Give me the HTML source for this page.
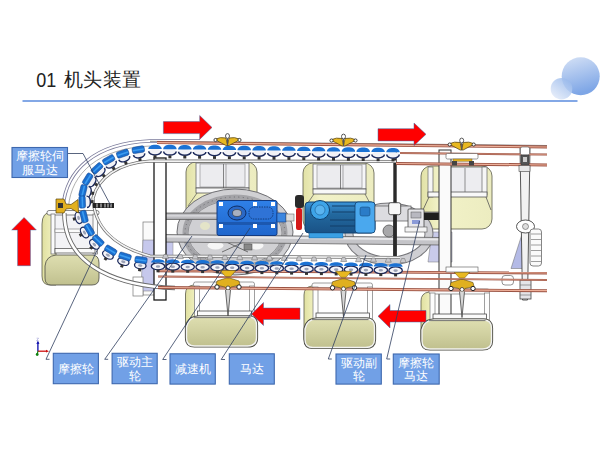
<!DOCTYPE html>
<html><head><meta charset="utf-8"><title>01 机头装置</title>
<style>html,body{margin:0;padding:0;background:#fff;}body{width:600px;height:450px;overflow:hidden;font-family:"Liberation Sans",sans-serif;}svg{display:block;}</style>
</head><body>
<svg width="600" height="450" viewBox="0 0 600 450"><defs>
<linearGradient id="gBig" x1="0" y1="0" x2="0.3" y2="1"><stop offset="0" stop-color="#d6e2f6"/><stop offset="1" stop-color="#7ea6e6"/></linearGradient>
<linearGradient id="gSmall" x1="0.8" y1="0.1" x2="0.2" y2="0.9"><stop offset="0" stop-color="#9bbbec"/><stop offset="1" stop-color="#dfe8f8"/></linearGradient>
<linearGradient id="gCream" x1="0" y1="0" x2="1" y2="0"><stop offset="0" stop-color="#e2e2a6"/><stop offset="0.25" stop-color="#f2f2c8"/><stop offset="1" stop-color="#ececc0"/></linearGradient>
<linearGradient id="gCreamL" x1="0" y1="0" x2="1" y2="0"><stop offset="0" stop-color="#e0e0a0"/><stop offset="1" stop-color="#f4f4c6"/></linearGradient>
<linearGradient id="gBot" x1="0" y1="0" x2="0" y2="1"><stop offset="0" stop-color="#dedeb0"/><stop offset="0.5" stop-color="#d0d0a0"/><stop offset="1" stop-color="#c0c08e"/></linearGradient>
<linearGradient id="gMotor" x1="0" y1="0" x2="0" y2="1"><stop offset="0" stop-color="#3c94d8"/><stop offset="0.4" stop-color="#22689e"/><stop offset="1" stop-color="#1a5286"/></linearGradient>
<linearGradient id="gGear" x1="0" y1="0" x2="0" y2="1"><stop offset="0" stop-color="#2f80e8"/><stop offset="1" stop-color="#1f66cc"/></linearGradient>
<linearGradient id="gShaft" x1="0" y1="0" x2="0" y2="1"><stop offset="0" stop-color="#9a9a9e"/><stop offset="0.4" stop-color="#d8d8dc"/><stop offset="1" stop-color="#a0a0a4"/></linearGradient>
</defs>
<text transform="translate(36.3,86.6) scale(0.9,1)" font-family="Liberation Sans, sans-serif" font-size="20" fill="#222">01</text>
<text x="64.3" y="85.5" font-family="Liberation Sans, sans-serif" font-size="18.5" letter-spacing="0.2" fill="#222">机头装置</text>
<line x1="22.5" y1="101" x2="577.5" y2="101" stroke="#5a8bde" stroke-width="1.7"/>
<circle cx="580.7" cy="76.3" r="19" fill="url(#gBig)"/>
<circle cx="561.5" cy="88.7" r="10.8" fill="url(#gSmall)" opacity="0.85"/>
<rect x="143" y="222" width="12" height="73" fill="#fafafa" stroke="#777" stroke-width="0.7"/>
<path d="M141,291 L143,240 L155,240 L155,291 Z" fill="#c6c8ec" stroke="#777" stroke-width="0.5"/>
<rect x="165" y="242" width="8" height="30" fill="#c6c8ec" stroke="#888" stroke-width="0.5"/>
<rect x="133" y="277" width="10" height="19" fill="#fff" stroke="#777" stroke-width="0.7"/>
<path d="M511,268.5 L522.7,232 L526,268.5 Z" fill="#b4bae6" stroke="#666" stroke-width="0.5"/>
<path d="M428,262 L432,232 L452,232 L452,262 Z" fill="#c9cbea" stroke="#777" stroke-width="0.5"/>
<rect x="186" y="162" width="71" height="74" rx="10" fill="url(#gCream)" stroke="#5a5a4a" stroke-width="0.8"/><rect x="196" y="163" width="53" height="25" fill="#f6f6f8" stroke="#6a6a6a" stroke-width="0.8"/><rect x="200" y="164" width="45" height="23" fill="#ececef" stroke="#888" stroke-width="0.6"/><line x1="223.5" y1="164" x2="223.5" y2="188" stroke="#555" stroke-width="0.7"/><line x1="226.0" y1="164" x2="226.0" y2="188" stroke="#777" stroke-width="0.6"/><rect x="196" y="188" width="53" height="5" fill="#f8f8f8" stroke="#444" stroke-width="0.7"/><line x1="197" y1="193" x2="188" y2="206" stroke="#555" stroke-width="0.7"/><line x1="248" y1="193" x2="255" y2="206" stroke="#555" stroke-width="0.7"/>
<rect x="303" y="163" width="71" height="67" rx="10" fill="url(#gCream)" stroke="#5a5a4a" stroke-width="0.8"/><rect x="313" y="164" width="53" height="25" fill="#f6f6f8" stroke="#6a6a6a" stroke-width="0.8"/><rect x="317" y="165" width="45" height="23" fill="#ececef" stroke="#888" stroke-width="0.6"/><line x1="340.5" y1="165" x2="340.5" y2="189" stroke="#555" stroke-width="0.7"/><line x1="343.0" y1="165" x2="343.0" y2="189" stroke="#777" stroke-width="0.6"/><rect x="313" y="189" width="53" height="5" fill="#f8f8f8" stroke="#444" stroke-width="0.7"/><line x1="314" y1="194" x2="305" y2="207" stroke="#555" stroke-width="0.7"/><line x1="365" y1="194" x2="372" y2="207" stroke="#555" stroke-width="0.7"/>
<rect x="421" y="166" width="71" height="63" rx="10" fill="url(#gCream)" stroke="#5a5a4a" stroke-width="0.8"/>
<rect x="428" y="167" width="5" height="30" fill="#f6f6f6" stroke="#666" stroke-width="0.7"/>
<rect x="450" y="167" width="36" height="26" fill="#ededf0" stroke="#666" stroke-width="0.8"/>
<rect x="482" y="167" width="5" height="28" fill="#f6f6f6" stroke="#666" stroke-width="0.7"/>
<rect x="428" y="192" width="59" height="5" fill="#f8f8f8" stroke="#444" stroke-width="0.7"/>
<line x1="429" y1="197" x2="422" y2="212" stroke="#555" stroke-width="0.8"/><line x1="486" y1="197" x2="491" y2="210" stroke="#555" stroke-width="0.8"/>
<line x1="465" y1="168" x2="465" y2="192" stroke="#666" stroke-width="0.7"/>
<path d="M42,224 Q42,212 52,212 L56,212 L56,285 L50,285 Q42,285 42,276 Z" fill="url(#gCreamL)" stroke="#5a5a4a" stroke-width="0.8"/>
<rect x="52" y="214" width="44" height="38" fill="#f3f3f6"/>
<rect x="47" y="210.5" width="52" height="4.5" rx="2" fill="#fbfbfb" stroke="#555" stroke-width="0.7"/>
<rect x="51" y="214" width="4" height="40" fill="#fbfbfb" stroke="#666" stroke-width="0.7"/><rect x="93" y="214" width="4.5" height="40" fill="#fbfbfb" stroke="#666" stroke-width="0.7"/>
<rect x="55" y="229" width="38" height="3.5" fill="#fbfbfb" stroke="#777" stroke-width="0.6"/>
<rect x="55" y="248.5" width="40" height="4.5" fill="#fbfbfb" stroke="#444" stroke-width="0.7"/>
<path d="M45,266 Q46,256 56,255 L92,255 Q99,255 99,263 L99,278 Q99,285 92,285 L51,285 Q45,285 45,278 Z" fill="url(#gBot)" stroke="#4a4a42" stroke-width="0.8"/>
<ellipse cx="389" cy="234" rx="40" ry="27" fill="none" stroke="#77777b" stroke-width="9"/>
<ellipse cx="389" cy="234" rx="40" ry="27" fill="none" stroke="#cfcfd3" stroke-width="7"/>
<ellipse cx="235" cy="232" rx="58" ry="43" fill="#d0d0d3" stroke="#6e6e72" stroke-width="1"/>
<ellipse cx="235" cy="233" rx="50" ry="36" fill="none" stroke="#a4a4a8" stroke-width="5"/>
<ellipse cx="235" cy="233" rx="50" ry="36" fill="none" stroke="#6a6a6e" stroke-width="1" stroke-dasharray="1 3.5"/>
<ellipse cx="235" cy="233" rx="47" ry="33" fill="none" stroke="#808084" stroke-width="0.8"/>
<ellipse cx="215.5" cy="245.5" rx="8" ry="4" fill="#f6f6f6"/><ellipse cx="256.5" cy="245.5" rx="7" ry="4" fill="#f6f6f6"/>
<path d="M222,252 L248,240 M222,240 L248,252" stroke="#555" stroke-width="0.8"/>
<ellipse cx="205" cy="226" rx="5" ry="4" fill="#e4e4c8"/>
<rect x="165" y="213" width="53" height="6.5" fill="url(#gShaft)" stroke="#555" stroke-width="0.7"/>
<path d="M165,234.5 L440,237.5 L440,245 L165,242 Z" fill="#c4c4c8" stroke="#555" stroke-width="0.7"/><path d="M165,236.5 L440,239.5" stroke="#e8e8ea" stroke-width="2"/>
<rect x="375" y="212" width="65" height="5" fill="#f4f4f4" stroke="#555" stroke-width="0.7"/>
<rect x="244" y="244" width="8" height="6" fill="#888" stroke="#444" stroke-width="0.5"/>
<rect x="217" y="200.5" width="60" height="35" rx="2" fill="url(#gGear)" stroke="#123a80" stroke-width="1"/>
<ellipse cx="237" cy="213" rx="9" ry="7" fill="#2a68c6" stroke="#0e2e66" stroke-width="1"/>
<ellipse cx="237" cy="213" rx="4.5" ry="3.5" fill="#a8b0c0" stroke="#333" stroke-width="0.6"/>
<rect x="249" y="207" width="24" height="12" rx="5" fill="#2f73d6" stroke="#0e2e66" stroke-width="0.8" stroke-dasharray="1.5 1"/>
<rect x="217" y="222" width="60" height="3" fill="#1c58b0"/>
<rect x="219" y="202" width="4" height="4" fill="#fff"/><rect x="253" y="202" width="4" height="4" fill="#fff"/><rect x="271" y="202" width="4" height="4" fill="#fff"/><rect x="219" y="224" width="4" height="4" fill="#fff"/><rect x="253" y="224" width="4" height="4" fill="#fff"/><rect x="271" y="224" width="4" height="4" fill="#fff"/>
<rect x="277" y="213" width="9" height="9" fill="#3b86e0" stroke="#123a80" stroke-width="0.6"/>
<rect x="286" y="214" width="8" height="7" fill="#ddd" stroke="#555" stroke-width="0.5"/>
<rect x="295" y="195" width="9" height="13" rx="3" fill="#2a2a2a"/>
<rect x="296" y="208" width="6" height="22" rx="2" fill="#d41a1a"/>
<rect x="305" y="202" width="70" height="31" rx="4" fill="url(#gMotor)" stroke="#10406e" stroke-width="1"/>
<circle cx="320" cy="210" r="9.5" fill="#3ea4e8" stroke="#10406e" stroke-width="1"/><circle cx="320" cy="210" r="5" fill="#5ab4f0" stroke="#1a5a90" stroke-width="0.6"/>
<path d="M332,206 H356 M332,212 H356 M330,220 H356 M330,226 H356" stroke="#123e68" stroke-width="1"/>
<rect x="355" y="202" width="20" height="31" rx="3" fill="#4aa8ee" stroke="#10406e" stroke-width="0.8"/>
<rect x="360" y="207" width="10" height="9" rx="2" fill="#2a7cc8" stroke="#10406e" stroke-width="0.5"/>
<rect x="309" y="233" width="34" height="5" fill="#3aa0e4" stroke="#1a5a90" stroke-width="0.5"/>
<ellipse cx="389" cy="231" rx="6" ry="6" fill="#a8a8aa" stroke="#555" stroke-width="0.8"/>
<rect x="375" y="206" width="36" height="15" fill="#dcdce0" stroke="#555" stroke-width="0.7"/>
<rect x="408" y="209" width="16" height="21" rx="1" fill="#e6e6ea" stroke="#444" stroke-width="0.8"/>
<rect x="411" y="212" width="10" height="6" fill="#b8b8c0" stroke="#555" stroke-width="0.5"/><rect x="412" y="220" width="8" height="4" fill="#8a9ad8"/>
<rect x="405" y="227" width="22" height="5" fill="#f4f4f4" stroke="#555" stroke-width="0.6"/>
<rect x="424" y="212.5" width="17" height="7.5" fill="#1e1e1e"/>
<rect x="440" y="211" width="4" height="10" rx="1.5" fill="#f0f0f0" stroke="#444" stroke-width="0.6"/>
<rect x="154" y="158" width="12" height="142" fill="#fff" stroke="#1a1a1a" stroke-width="1.3"/>
<rect x="439" y="150" width="12" height="195" fill="#fafafa" stroke="#333" stroke-width="1"/>
<path d="M520,148 L530,148 L527.5,300 L522.5,300 Z" fill="#f2f2f2" stroke="#444" stroke-width="0.9"/>
<ellipse cx="525.5" cy="226.5" rx="9" ry="6.5" fill="#fff" stroke="#444" stroke-width="0.9"/><ellipse cx="525.5" cy="226.5" rx="3" ry="3" fill="#ddd" stroke="#555" stroke-width="0.6"/>
<rect x="530" y="229" width="11.5" height="37" rx="3" fill="#fafafa" stroke="#666" stroke-width="0.8"/>
<path d="M531,234 H541 M531,239.5 H541 M531,245 H541 M531,250.5 H541 M531,256 H541 M531,261.5 H541" stroke="#777" stroke-width="0.7"/>
<line x1="395" y1="150" x2="395" y2="258" stroke="#2a2a2a" stroke-width="3.4"/>
<rect x="388.7" y="202.7" width="12" height="12" rx="2" fill="#f8f8f8" stroke="#333" stroke-width="0.8"/><line x1="395" y1="214.7" x2="395" y2="258" stroke="#2a2a2a" stroke-width="3.4"/>
<rect x="520" y="280" width="11" height="19" fill="#e4e4e8" stroke="#444" stroke-width="0.8"/><path d="M520,285 H531 M520,290 H531 M520,295 H531" stroke="#666" stroke-width="0.6"/>
<rect x="502" y="275.5" width="11.5" height="9.5" rx="3" fill="#fff" stroke="#666" stroke-width="0.7"/>
<path d="M63,207 C66,170 95,143 150,141 L200,141" fill="none" stroke="#7a7a9a" stroke-width="3.4"/>
<path d="M63,207 C66,170 95,143 150,141 L200,141" fill="none" stroke="#fff" stroke-width="1.8"/>
<path d="M68.5,207 C71,173 99,148 150,146" fill="none" stroke="#9a9a9a" stroke-width="0.8"/>
<path d="M64.3,213 C64.5,270 125,286.4 175,288" fill="none" stroke="#6a6a6a" stroke-width="4.4"/>
<path d="M64.3,213 C64.5,270 125,286.4 175,288" fill="none" stroke="#fff" stroke-width="2.6"/>
<path d="M396,161.5 L150,161 C118,163 98,178 93,198 C94,225 112,246 150,256 L400,257.5" fill="none" stroke="#707070" stroke-width="3.2"/>
<path d="M396,161.5 L150,161 C118,163 98,178 93,198 C94,225 112,246 150,256 L400,257.5" fill="none" stroke="#f4f4f4" stroke-width="1.6"/>
<path d="M185.5,294 Q185.5,286 193.5,285 L197.5,285 L197.5,346 L193.5,346 Q185.5,346 185.5,336 Z" fill="url(#gCreamL)" stroke="#5a5a4a" stroke-width="0.8"/><rect x="193.5" y="282" width="61.0" height="5" rx="2" fill="#fbfbfb" stroke="#777" stroke-width="0.7"/><rect x="194.5" y="286" width="5" height="31" fill="#fdfdfd" stroke="#777" stroke-width="0.7"/><rect x="249.5" y="286" width="5" height="31" fill="#fdfdfd" stroke="#777" stroke-width="0.7"/><rect x="197.5" y="311" width="54.0" height="5" fill="#fbfbfb" stroke="#333" stroke-width="0.7"/><path d="M186.5,327 Q188.5,317 198.5,317 L248.5,317 Q256.5,317 256.5,325 L256.5,338 Q256.5,346 247.5,346 L194.5,346 Q186.5,346 186.5,338 Z" fill="none" stroke="#4a4a42" stroke-width="3.2"/><path d="M186.5,327 Q188.5,317 198.5,317 L248.5,317 Q256.5,317 256.5,325 L256.5,338 Q256.5,346 247.5,346 L194.5,346 Q186.5,346 186.5,338 Z" fill="url(#gBot)" stroke="#f2f2f0" stroke-width="1.4"/><line x1="193.5" y1="317.6" x2="250.5" y2="317.6" stroke="#555" stroke-width="0.8"/>
<path d="M304,295 Q304,287 312,286 L316,286 L316,347.5 L312,347.5 Q304,347.5 304,337.5 Z" fill="url(#gCreamL)" stroke="#5a5a4a" stroke-width="0.8"/><rect x="312" y="283" width="60.5" height="5" rx="2" fill="#fbfbfb" stroke="#777" stroke-width="0.7"/><rect x="313" y="287" width="5" height="32" fill="#fdfdfd" stroke="#777" stroke-width="0.7"/><rect x="367.5" y="287" width="5" height="32" fill="#fdfdfd" stroke="#777" stroke-width="0.7"/><rect x="316" y="313" width="53.5" height="5" fill="#fbfbfb" stroke="#333" stroke-width="0.7"/><path d="M305,329 Q307,319 317,319 L366.5,319 Q374.5,319 374.5,327 L374.5,339.5 Q374.5,347.5 365.5,347.5 L313,347.5 Q305,347.5 305,339.5 Z" fill="none" stroke="#4a4a42" stroke-width="3.2"/><path d="M305,329 Q307,319 317,319 L366.5,319 Q374.5,319 374.5,327 L374.5,339.5 Q374.5,347.5 365.5,347.5 L313,347.5 Q305,347.5 305,339.5 Z" fill="url(#gBot)" stroke="#f2f2f0" stroke-width="1.4"/><line x1="312" y1="319.6" x2="368.5" y2="319.6" stroke="#555" stroke-width="0.8"/>
<path d="M421,301 Q421,293 429,292 L433,292 L433,349 L429,349 Q421,349 421,339 Z" fill="url(#gCreamL)" stroke="#5a5a4a" stroke-width="0.8"/><rect x="429" y="289" width="60.5" height="5" rx="2" fill="#fbfbfb" stroke="#777" stroke-width="0.7"/><rect x="430" y="293" width="5" height="27" fill="#fdfdfd" stroke="#777" stroke-width="0.7"/><rect x="484.5" y="293" width="5" height="27" fill="#fdfdfd" stroke="#777" stroke-width="0.7"/><rect x="433" y="314" width="53.5" height="5" fill="#fbfbfb" stroke="#333" stroke-width="0.7"/><path d="M422,330 Q424,320 434,320 L483.5,320 Q491.5,320 491.5,328 L491.5,341 Q491.5,349 482.5,349 L430,349 Q422,349 422,341 Z" fill="none" stroke="#4a4a42" stroke-width="3.2"/><path d="M422,330 Q424,320 434,320 L483.5,320 Q491.5,320 491.5,328 L491.5,341 Q491.5,349 482.5,349 L430,349 Q422,349 422,341 Z" fill="url(#gBot)" stroke="#f2f2f0" stroke-width="1.4"/><line x1="429" y1="320.6" x2="485.5" y2="320.6" stroke="#555" stroke-width="0.8"/>
<line x1="150" y1="141.3" x2="547" y2="145.5" stroke="#555" stroke-width="0.7"/>
<line x1="157" y1="142.6" x2="547" y2="147" stroke="#9a5242" stroke-width="3.0"/><line x1="157" y1="142.6" x2="547" y2="147" stroke="#eeb09a" stroke-width="1.2"/>
<line x1="400" y1="153" x2="547" y2="154.6" stroke="#9a5242" stroke-width="2.0"/><line x1="400" y1="153" x2="547" y2="154.6" stroke="#eeb09a" stroke-width="0.6"/>
<line x1="396" y1="163.5" x2="547" y2="165" stroke="#9a5242" stroke-width="3.0"/><line x1="396" y1="163.5" x2="547" y2="165" stroke="#eeb09a" stroke-width="1.2"/>
<line x1="158" y1="270.8" x2="547" y2="273" stroke="#9a5242" stroke-width="2.8000000000000003"/><line x1="158" y1="270.8" x2="547" y2="273" stroke="#eeb09a" stroke-width="1.0000000000000002"/>
<line x1="158" y1="276.5" x2="547" y2="280" stroke="#9a5242" stroke-width="1.7999999999999998"/><line x1="158" y1="276.5" x2="547" y2="280" stroke="#eeb09a" stroke-width="0.6"/>
<line x1="158" y1="287.5" x2="547" y2="290.7" stroke="#9a5242" stroke-width="3.0"/><line x1="158" y1="287.5" x2="547" y2="290.7" stroke="#eeb09a" stroke-width="1.2"/>
<g transform="translate(155.0,146.7) rotate(0.0)"><ellipse cx="0" cy="5.2" rx="6.3" ry="3.4" fill="#f2f2f6"/><path d="M-6.3,4.6 A6.3,3.6 0 0 0 6.3,4.6" fill="none" stroke="#1c2a5c" stroke-width="1.5"/><path d="M-6.7,2.30 C-6.7,-3.50 6.7,-3.50 6.7,2.30 Z" fill="#1b72d4"/><rect x="-1.5" y="8.6" width="3" height="2.8" fill="#333"/></g>
<g transform="translate(169.9,146.9) rotate(0.0)"><ellipse cx="0" cy="5.2" rx="6.3" ry="3.4" fill="#f2f2f6"/><path d="M-6.3,4.6 A6.3,3.6 0 0 0 6.3,4.6" fill="none" stroke="#1c2a5c" stroke-width="1.5"/><path d="M-6.7,2.30 C-6.7,-3.50 6.7,-3.50 6.7,2.30 Z" fill="#1b72d4"/><rect x="-1.5" y="8.6" width="3" height="2.8" fill="#333"/></g>
<g transform="translate(184.8,147.1) rotate(0.0)"><ellipse cx="0" cy="5.2" rx="6.3" ry="3.4" fill="#f2f2f6"/><path d="M-6.3,4.6 A6.3,3.6 0 0 0 6.3,4.6" fill="none" stroke="#1c2a5c" stroke-width="1.5"/><path d="M-6.7,2.30 C-6.7,-3.50 6.7,-3.50 6.7,2.30 Z" fill="#1b72d4"/><rect x="-1.5" y="8.6" width="3" height="2.8" fill="#333"/></g>
<g transform="translate(199.6,147.3) rotate(0.0)"><ellipse cx="0" cy="5.2" rx="6.3" ry="3.4" fill="#f2f2f6"/><path d="M-6.3,4.6 A6.3,3.6 0 0 0 6.3,4.6" fill="none" stroke="#1c2a5c" stroke-width="1.5"/><path d="M-6.7,2.30 C-6.7,-3.50 6.7,-3.50 6.7,2.30 Z" fill="#1b72d4"/><rect x="-1.5" y="8.6" width="3" height="2.8" fill="#333"/></g>
<g transform="translate(214.5,147.5) rotate(0.0)"><ellipse cx="0" cy="5.2" rx="6.3" ry="3.4" fill="#f2f2f6"/><path d="M-6.3,4.6 A6.3,3.6 0 0 0 6.3,4.6" fill="none" stroke="#1c2a5c" stroke-width="1.5"/><path d="M-6.7,2.30 C-6.7,-3.50 6.7,-3.50 6.7,2.30 Z" fill="#1b72d4"/><rect x="-1.5" y="8.6" width="3" height="2.8" fill="#333"/></g>
<g transform="translate(229.4,147.7) rotate(0.0)"><ellipse cx="0" cy="5.2" rx="6.3" ry="3.4" fill="#f2f2f6"/><path d="M-6.3,4.6 A6.3,3.6 0 0 0 6.3,4.6" fill="none" stroke="#1c2a5c" stroke-width="1.5"/><path d="M-6.7,2.30 C-6.7,-3.50 6.7,-3.50 6.7,2.30 Z" fill="#1b72d4"/><rect x="-1.5" y="8.6" width="3" height="2.8" fill="#333"/></g>
<g transform="translate(244.2,147.9) rotate(0.0)"><ellipse cx="0" cy="5.2" rx="6.3" ry="3.4" fill="#f2f2f6"/><path d="M-6.3,4.6 A6.3,3.6 0 0 0 6.3,4.6" fill="none" stroke="#1c2a5c" stroke-width="1.5"/><path d="M-6.7,2.30 C-6.7,-3.50 6.7,-3.50 6.7,2.30 Z" fill="#1b72d4"/><rect x="-1.5" y="8.6" width="3" height="2.8" fill="#333"/></g>
<g transform="translate(259.1,148.1) rotate(0.0)"><ellipse cx="0" cy="5.2" rx="6.3" ry="3.4" fill="#f2f2f6"/><path d="M-6.3,4.6 A6.3,3.6 0 0 0 6.3,4.6" fill="none" stroke="#1c2a5c" stroke-width="1.5"/><path d="M-6.7,2.30 C-6.7,-3.50 6.7,-3.50 6.7,2.30 Z" fill="#1b72d4"/><rect x="-1.5" y="8.6" width="3" height="2.8" fill="#333"/></g>
<g transform="translate(274.0,148.3) rotate(0.0)"><ellipse cx="0" cy="5.2" rx="6.3" ry="3.4" fill="#f2f2f6"/><path d="M-6.3,4.6 A6.3,3.6 0 0 0 6.3,4.6" fill="none" stroke="#1c2a5c" stroke-width="1.5"/><path d="M-6.7,2.30 C-6.7,-3.50 6.7,-3.50 6.7,2.30 Z" fill="#1b72d4"/><rect x="-1.5" y="8.6" width="3" height="2.8" fill="#333"/></g>
<g transform="translate(288.9,148.5) rotate(0.0)"><ellipse cx="0" cy="5.2" rx="6.3" ry="3.4" fill="#f2f2f6"/><path d="M-6.3,4.6 A6.3,3.6 0 0 0 6.3,4.6" fill="none" stroke="#1c2a5c" stroke-width="1.5"/><path d="M-6.7,2.30 C-6.7,-3.50 6.7,-3.50 6.7,2.30 Z" fill="#1b72d4"/><rect x="-1.5" y="8.6" width="3" height="2.8" fill="#333"/></g>
<g transform="translate(303.8,148.7) rotate(0.0)"><ellipse cx="0" cy="5.2" rx="6.3" ry="3.4" fill="#f2f2f6"/><path d="M-6.3,4.6 A6.3,3.6 0 0 0 6.3,4.6" fill="none" stroke="#1c2a5c" stroke-width="1.5"/><path d="M-6.7,2.30 C-6.7,-3.50 6.7,-3.50 6.7,2.30 Z" fill="#1b72d4"/><rect x="-1.5" y="8.6" width="3" height="2.8" fill="#333"/></g>
<g transform="translate(318.6,149.0) rotate(0.0)"><ellipse cx="0" cy="5.2" rx="6.3" ry="3.4" fill="#f2f2f6"/><path d="M-6.3,4.6 A6.3,3.6 0 0 0 6.3,4.6" fill="none" stroke="#1c2a5c" stroke-width="1.5"/><path d="M-6.7,2.30 C-6.7,-3.50 6.7,-3.50 6.7,2.30 Z" fill="#1b72d4"/><rect x="-1.5" y="8.6" width="3" height="2.8" fill="#333"/></g>
<g transform="translate(333.5,149.2) rotate(0.0)"><ellipse cx="0" cy="5.2" rx="6.3" ry="3.4" fill="#f2f2f6"/><path d="M-6.3,4.6 A6.3,3.6 0 0 0 6.3,4.6" fill="none" stroke="#1c2a5c" stroke-width="1.5"/><path d="M-6.7,2.30 C-6.7,-3.50 6.7,-3.50 6.7,2.30 Z" fill="#1b72d4"/><rect x="-1.5" y="8.6" width="3" height="2.8" fill="#333"/></g>
<g transform="translate(348.4,149.4) rotate(0.0)"><ellipse cx="0" cy="5.2" rx="6.3" ry="3.4" fill="#f2f2f6"/><path d="M-6.3,4.6 A6.3,3.6 0 0 0 6.3,4.6" fill="none" stroke="#1c2a5c" stroke-width="1.5"/><path d="M-6.7,2.30 C-6.7,-3.50 6.7,-3.50 6.7,2.30 Z" fill="#1b72d4"/><rect x="-1.5" y="8.6" width="3" height="2.8" fill="#333"/></g>
<g transform="translate(363.2,149.6) rotate(0.0)"><ellipse cx="0" cy="5.2" rx="6.3" ry="3.4" fill="#f2f2f6"/><path d="M-6.3,4.6 A6.3,3.6 0 0 0 6.3,4.6" fill="none" stroke="#1c2a5c" stroke-width="1.5"/><path d="M-6.7,2.30 C-6.7,-3.50 6.7,-3.50 6.7,2.30 Z" fill="#1b72d4"/><rect x="-1.5" y="8.6" width="3" height="2.8" fill="#333"/></g>
<g transform="translate(378.1,149.8) rotate(0.0)"><ellipse cx="0" cy="5.2" rx="6.3" ry="3.4" fill="#f2f2f6"/><path d="M-6.3,4.6 A6.3,3.6 0 0 0 6.3,4.6" fill="none" stroke="#1c2a5c" stroke-width="1.5"/><path d="M-6.7,2.30 C-6.7,-3.50 6.7,-3.50 6.7,2.30 Z" fill="#1b72d4"/><rect x="-1.5" y="8.6" width="3" height="2.8" fill="#333"/></g>
<g transform="translate(393.0,150.0) rotate(0.0)"><ellipse cx="0" cy="5.2" rx="6.3" ry="3.4" fill="#f2f2f6"/><path d="M-6.3,4.6 A6.3,3.6 0 0 0 6.3,4.6" fill="none" stroke="#1c2a5c" stroke-width="1.5"/><path d="M-6.7,2.30 C-6.7,-3.50 6.7,-3.50 6.7,2.30 Z" fill="#1b72d4"/><rect x="-1.5" y="8.6" width="3" height="2.8" fill="#333"/></g>
<g transform="translate(138.3,149.7) rotate(-9.6)"><ellipse cx="0" cy="5.2" rx="5.699999999999999" ry="3.4" fill="#f2f2f6"/><path d="M-5.699999999999999,4.6 A5.699999999999999,3.6 0 0 0 5.699999999999999,4.6" fill="none" stroke="#1c2a5c" stroke-width="1.5"/><rect x="-6.1" y="-3.2" width="12.2" height="6.4" rx="1.8" fill="#1a6fd0" stroke="#0e3e86" stroke-width="0.5"/><rect x="-5.5" y="-0.6" width="11.0" height="1.6" fill="#3c9cf0"/><rect x="-1.5" y="8.6" width="3" height="2.8" fill="#333"/></g>
<g transform="translate(122.7,153.6) rotate(-18.8)"><ellipse cx="0" cy="5.2" rx="5.699999999999999" ry="3.4" fill="#f2f2f6"/><path d="M-5.699999999999999,4.6 A5.699999999999999,3.6 0 0 0 5.699999999999999,4.6" fill="none" stroke="#1c2a5c" stroke-width="1.5"/><rect x="-6.1" y="-3.2" width="12.2" height="6.4" rx="1.8" fill="#1a6fd0" stroke="#0e3e86" stroke-width="0.5"/><rect x="-5.5" y="-0.6" width="11.0" height="1.6" fill="#3c9cf0"/><rect x="-1.5" y="8.6" width="3" height="2.8" fill="#333"/></g>
<g transform="translate(108.7,159.8) rotate(-29.9)"><ellipse cx="0" cy="5.2" rx="5.699999999999999" ry="3.4" fill="#f2f2f6"/><path d="M-5.699999999999999,4.6 A5.699999999999999,3.6 0 0 0 5.699999999999999,4.6" fill="none" stroke="#1c2a5c" stroke-width="1.5"/><rect x="-6.1" y="-3.2" width="12.2" height="6.4" rx="1.8" fill="#1a6fd0" stroke="#0e3e86" stroke-width="0.5"/><rect x="-5.5" y="-0.6" width="11.0" height="1.6" fill="#3c9cf0"/><rect x="-1.5" y="8.6" width="3" height="2.8" fill="#333"/></g>
<g transform="translate(97.0,168.4) rotate(-42.7)"><ellipse cx="0" cy="5.2" rx="5.699999999999999" ry="3.4" fill="#f2f2f6"/><path d="M-5.699999999999999,4.6 A5.699999999999999,3.6 0 0 0 5.699999999999999,4.6" fill="none" stroke="#1c2a5c" stroke-width="1.5"/><rect x="-6.1" y="-3.2" width="12.2" height="6.4" rx="1.8" fill="#1a6fd0" stroke="#0e3e86" stroke-width="0.5"/><rect x="-5.5" y="-0.6" width="11.0" height="1.6" fill="#3c9cf0"/><rect x="-1.5" y="8.6" width="3" height="2.8" fill="#333"/></g>
<g transform="translate(87.7,179.2) rotate(-58.1)"><ellipse cx="0" cy="5.2" rx="5.699999999999999" ry="3.4" fill="#f2f2f6"/><path d="M-5.699999999999999,4.6 A5.699999999999999,3.6 0 0 0 5.699999999999999,4.6" fill="none" stroke="#1c2a5c" stroke-width="1.5"/><rect x="-6.1" y="-3.2" width="12.2" height="6.4" rx="1.8" fill="#1a6fd0" stroke="#0e3e86" stroke-width="0.5"/><rect x="-5.5" y="-0.6" width="11.0" height="1.6" fill="#3c9cf0"/><rect x="-1.5" y="8.6" width="3" height="2.8" fill="#333"/></g>
<g transform="translate(83.0,190.9) rotate(-76.4)"><ellipse cx="0" cy="5.2" rx="5.699999999999999" ry="3.4" fill="#f2f2f6"/><path d="M-5.699999999999999,4.6 A5.699999999999999,3.6 0 0 0 5.699999999999999,4.6" fill="none" stroke="#1c2a5c" stroke-width="1.5"/><rect x="-6.1" y="-3.2" width="12.2" height="6.4" rx="1.8" fill="#1a6fd0" stroke="#0e3e86" stroke-width="0.5"/><rect x="-5.5" y="-0.6" width="11.0" height="1.6" fill="#3c9cf0"/><rect x="-1.5" y="8.6" width="3" height="2.8" fill="#333"/></g>
<g transform="translate(82.2,202.0) rotate(-92.2)"><ellipse cx="0" cy="5.2" rx="5.699999999999999" ry="3.4" fill="#f2f2f6"/><path d="M-5.699999999999999,4.6 A5.699999999999999,3.6 0 0 0 5.699999999999999,4.6" fill="none" stroke="#1c2a5c" stroke-width="1.5"/><rect x="-6.1" y="-3.2" width="12.2" height="6.4" rx="1.8" fill="#1a6fd0" stroke="#0e3e86" stroke-width="0.5"/><rect x="-5.5" y="-0.6" width="11.0" height="1.6" fill="#3c9cf0"/><rect x="-1.5" y="8.6" width="3" height="2.8" fill="#333"/></g>
<g transform="translate(84.0,216.5) rotate(75.7)"><ellipse cx="0" cy="5.4" rx="5.8" ry="3.5" fill="#f4f4f8" stroke="#1c2a5c" stroke-width="1.3"/><ellipse cx="0" cy="5.6" rx="2.2" ry="1.3" fill="#9aa0b4"/><rect x="-6.1" y="-3.2" width="12.2" height="6.4" rx="1.8" fill="#1a6fd0" stroke="#0e3e86" stroke-width="0.5"/><rect x="-5.5" y="-0.6" width="11.0" height="1.6" fill="#3c9cf0"/><rect x="-1.5" y="8.6" width="3" height="2.8" fill="#333"/></g>
<g transform="translate(89.3,229.8) rotate(59.4)"><ellipse cx="0" cy="5.4" rx="5.8" ry="3.5" fill="#f4f4f8" stroke="#1c2a5c" stroke-width="1.3"/><ellipse cx="0" cy="5.6" rx="2.2" ry="1.3" fill="#9aa0b4"/><rect x="-6.1" y="-3.2" width="12.2" height="6.4" rx="1.8" fill="#1a6fd0" stroke="#0e3e86" stroke-width="0.5"/><rect x="-5.5" y="-0.6" width="11.0" height="1.6" fill="#3c9cf0"/><rect x="-1.5" y="8.6" width="3" height="2.8" fill="#333"/></g>
<g transform="translate(98.2,240.5) rotate(43.8)"><ellipse cx="0" cy="5.4" rx="5.8" ry="3.5" fill="#f4f4f8" stroke="#1c2a5c" stroke-width="1.3"/><ellipse cx="0" cy="5.6" rx="2.2" ry="1.3" fill="#9aa0b4"/><rect x="-6.1" y="-3.2" width="12.2" height="6.4" rx="1.8" fill="#1a6fd0" stroke="#0e3e86" stroke-width="0.5"/><rect x="-5.5" y="-0.6" width="11.0" height="1.6" fill="#3c9cf0"/><rect x="-1.5" y="8.6" width="3" height="2.8" fill="#333"/></g>
<g transform="translate(110.7,250.3) rotate(30.8)"><ellipse cx="0" cy="5.4" rx="5.8" ry="3.5" fill="#f4f4f8" stroke="#1c2a5c" stroke-width="1.3"/><ellipse cx="0" cy="5.6" rx="2.2" ry="1.3" fill="#9aa0b4"/><rect x="-6.1" y="-3.2" width="12.2" height="6.4" rx="1.8" fill="#1a6fd0" stroke="#0e3e86" stroke-width="0.5"/><rect x="-5.5" y="-0.6" width="11.0" height="1.6" fill="#3c9cf0"/><rect x="-1.5" y="8.6" width="3" height="2.8" fill="#333"/></g>
<g transform="translate(125.0,256.5) rotate(17.8)"><ellipse cx="0" cy="5.4" rx="5.8" ry="3.5" fill="#f4f4f8" stroke="#1c2a5c" stroke-width="1.3"/><ellipse cx="0" cy="5.6" rx="2.2" ry="1.3" fill="#9aa0b4"/><rect x="-6.1" y="-3.2" width="12.2" height="6.4" rx="1.8" fill="#1a6fd0" stroke="#0e3e86" stroke-width="0.5"/><rect x="-5.5" y="-0.6" width="11.0" height="1.6" fill="#3c9cf0"/><rect x="-1.5" y="8.6" width="3" height="2.8" fill="#333"/></g>
<g transform="translate(141.0,260.0) rotate(7.8)"><ellipse cx="0" cy="5.4" rx="5.8" ry="3.5" fill="#f4f4f8" stroke="#1c2a5c" stroke-width="1.3"/><ellipse cx="0" cy="5.6" rx="2.2" ry="1.3" fill="#9aa0b4"/><rect x="-6.1" y="-3.2" width="12.2" height="6.4" rx="1.8" fill="#1a6fd0" stroke="#0e3e86" stroke-width="0.5"/><rect x="-5.5" y="-0.6" width="11.0" height="1.6" fill="#3c9cf0"/><rect x="-1.5" y="8.6" width="3" height="2.8" fill="#333"/></g>
<path d="M162.5,258.4 L164.0,254.4 L167.0,254.4 L168.5,258.4 Z" fill="#c8c8cc" stroke="#666" stroke-width="0.5"/>
<g transform="translate(158.0,260.9) rotate(0.0)"><ellipse cx="0" cy="5.4" rx="6.7" ry="3.5" fill="#f4f4f8" stroke="#1c2a5c" stroke-width="1.3"/><ellipse cx="0" cy="5.6" rx="2.2" ry="1.3" fill="#9aa0b4"/><path d="M-7.0,1.70 C-7.0,-2.90 7.0,-2.90 7.0,1.70 Z" fill="#1b72d4"/><rect x="-1.5" y="8.6" width="3" height="2.8" fill="#333"/></g>
<path d="M177.35,258.7 L178.85,254.7 L181.85,254.7 L183.35,258.7 Z" fill="#c8c8cc" stroke="#666" stroke-width="0.5"/>
<g transform="translate(172.8,261.2) rotate(0.0)"><ellipse cx="0" cy="5.4" rx="6.7" ry="3.5" fill="#f4f4f8" stroke="#1c2a5c" stroke-width="1.3"/><ellipse cx="0" cy="5.6" rx="2.2" ry="1.3" fill="#9aa0b4"/><path d="M-7.0,1.70 C-7.0,-2.90 7.0,-2.90 7.0,1.70 Z" fill="#1b72d4"/><rect x="-1.5" y="8.6" width="3" height="2.8" fill="#333"/></g>
<path d="M192.2,258.9 L193.7,254.9 L196.7,254.9 L198.2,258.9 Z" fill="#c8c8cc" stroke="#666" stroke-width="0.5"/>
<g transform="translate(187.7,261.4) rotate(0.0)"><ellipse cx="0" cy="5.4" rx="6.7" ry="3.5" fill="#f4f4f8" stroke="#1c2a5c" stroke-width="1.3"/><ellipse cx="0" cy="5.6" rx="2.2" ry="1.3" fill="#9aa0b4"/><path d="M-7.0,1.70 C-7.0,-2.90 7.0,-2.90 7.0,1.70 Z" fill="#1b72d4"/><rect x="-1.5" y="8.6" width="3" height="2.8" fill="#333"/></g>
<path d="M207.05,259.2 L208.55,255.2 L211.55,255.2 L213.05,259.2 Z" fill="#c8c8cc" stroke="#666" stroke-width="0.5"/>
<g transform="translate(202.6,261.7) rotate(0.0)"><ellipse cx="0" cy="5.4" rx="6.7" ry="3.5" fill="#f4f4f8" stroke="#1c2a5c" stroke-width="1.3"/><ellipse cx="0" cy="5.6" rx="2.2" ry="1.3" fill="#9aa0b4"/><path d="M-7.0,1.70 C-7.0,-2.90 7.0,-2.90 7.0,1.70 Z" fill="#1b72d4"/><rect x="-1.5" y="8.6" width="3" height="2.8" fill="#333"/></g>
<path d="M221.9,259.4 L223.4,255.4 L226.4,255.4 L227.9,259.4 Z" fill="#c8c8cc" stroke="#666" stroke-width="0.5"/>
<g transform="translate(217.4,261.9) rotate(0.0)"><ellipse cx="0" cy="5.4" rx="6.7" ry="3.5" fill="#f4f4f8" stroke="#1c2a5c" stroke-width="1.3"/><ellipse cx="0" cy="5.6" rx="2.2" ry="1.3" fill="#9aa0b4"/><path d="M-7.0,1.70 C-7.0,-2.90 7.0,-2.90 7.0,1.70 Z" fill="#1b72d4"/><rect x="-1.5" y="8.6" width="3" height="2.8" fill="#333"/></g>
<path d="M236.75,259.7 L238.25,255.7 L241.25,255.7 L242.75,259.7 Z" fill="#c8c8cc" stroke="#666" stroke-width="0.5"/>
<g transform="translate(232.2,262.2) rotate(0.0)"><ellipse cx="0" cy="5.4" rx="6.7" ry="3.5" fill="#f4f4f8" stroke="#1c2a5c" stroke-width="1.3"/><ellipse cx="0" cy="5.6" rx="2.2" ry="1.3" fill="#9aa0b4"/><path d="M-7.0,1.70 C-7.0,-2.90 7.0,-2.90 7.0,1.70 Z" fill="#1b72d4"/><rect x="-1.5" y="8.6" width="3" height="2.8" fill="#333"/></g>
<path d="M251.6,259.9 L253.1,255.9 L256.1,255.9 L257.6,259.9 Z" fill="#c8c8cc" stroke="#666" stroke-width="0.5"/>
<g transform="translate(247.1,262.4) rotate(0.0)"><ellipse cx="0" cy="5.4" rx="6.7" ry="3.5" fill="#f4f4f8" stroke="#1c2a5c" stroke-width="1.3"/><ellipse cx="0" cy="5.6" rx="2.2" ry="1.3" fill="#9aa0b4"/><path d="M-7.0,1.70 C-7.0,-2.90 7.0,-2.90 7.0,1.70 Z" fill="#1b72d4"/><rect x="-1.5" y="8.6" width="3" height="2.8" fill="#333"/></g>
<path d="M266.45,260.2 L267.95,256.2 L270.95,256.2 L272.45,260.2 Z" fill="#c8c8cc" stroke="#666" stroke-width="0.5"/>
<g transform="translate(261.9,262.7) rotate(0.0)"><ellipse cx="0" cy="5.4" rx="6.7" ry="3.5" fill="#f4f4f8" stroke="#1c2a5c" stroke-width="1.3"/><ellipse cx="0" cy="5.6" rx="2.2" ry="1.3" fill="#9aa0b4"/><path d="M-7.0,1.70 C-7.0,-2.90 7.0,-2.90 7.0,1.70 Z" fill="#1b72d4"/><rect x="-1.5" y="8.6" width="3" height="2.8" fill="#333"/></g>
<path d="M281.3,260.4 L282.8,256.4 L285.8,256.4 L287.3,260.4 Z" fill="#c8c8cc" stroke="#666" stroke-width="0.5"/>
<g transform="translate(276.8,262.9) rotate(0.0)"><ellipse cx="0" cy="5.4" rx="6.7" ry="3.5" fill="#f4f4f8" stroke="#1c2a5c" stroke-width="1.3"/><ellipse cx="0" cy="5.6" rx="2.2" ry="1.3" fill="#9aa0b4"/><path d="M-7.0,1.70 C-7.0,-2.90 7.0,-2.90 7.0,1.70 Z" fill="#1b72d4"/><rect x="-1.5" y="8.6" width="3" height="2.8" fill="#333"/></g>
<path d="M296.15,260.7 L297.65,256.7 L300.65,256.7 L302.15,260.7 Z" fill="#c8c8cc" stroke="#666" stroke-width="0.5"/>
<g transform="translate(291.6,263.2) rotate(0.0)"><ellipse cx="0" cy="5.4" rx="6.7" ry="3.5" fill="#f4f4f8" stroke="#1c2a5c" stroke-width="1.3"/><ellipse cx="0" cy="5.6" rx="2.2" ry="1.3" fill="#9aa0b4"/><path d="M-7.0,1.70 C-7.0,-2.90 7.0,-2.90 7.0,1.70 Z" fill="#1b72d4"/><rect x="-1.5" y="8.6" width="3" height="2.8" fill="#333"/></g>
<path d="M311.0,261.0 L312.5,257.0 L315.5,257.0 L317.0,261.0 Z" fill="#c8c8cc" stroke="#666" stroke-width="0.5"/>
<g transform="translate(306.5,263.5) rotate(0.0)"><ellipse cx="0" cy="5.4" rx="6.7" ry="3.5" fill="#f4f4f8" stroke="#1c2a5c" stroke-width="1.3"/><ellipse cx="0" cy="5.6" rx="2.2" ry="1.3" fill="#9aa0b4"/><path d="M-7.0,1.70 C-7.0,-2.90 7.0,-2.90 7.0,1.70 Z" fill="#1b72d4"/><rect x="-1.5" y="8.6" width="3" height="2.8" fill="#333"/></g>
<path d="M325.85,261.2 L327.35,257.2 L330.35,257.2 L331.85,261.2 Z" fill="#c8c8cc" stroke="#666" stroke-width="0.5"/>
<g transform="translate(321.4,263.7) rotate(0.0)"><ellipse cx="0" cy="5.4" rx="6.7" ry="3.5" fill="#f4f4f8" stroke="#1c2a5c" stroke-width="1.3"/><ellipse cx="0" cy="5.6" rx="2.2" ry="1.3" fill="#9aa0b4"/><path d="M-7.0,1.70 C-7.0,-2.90 7.0,-2.90 7.0,1.70 Z" fill="#1b72d4"/><rect x="-1.5" y="8.6" width="3" height="2.8" fill="#333"/></g>
<path d="M340.7,261.5 L342.2,257.5 L345.2,257.5 L346.7,261.5 Z" fill="#c8c8cc" stroke="#666" stroke-width="0.5"/>
<g transform="translate(336.2,264.0) rotate(0.0)"><ellipse cx="0" cy="5.4" rx="6.7" ry="3.5" fill="#f4f4f8" stroke="#1c2a5c" stroke-width="1.3"/><ellipse cx="0" cy="5.6" rx="2.2" ry="1.3" fill="#9aa0b4"/><path d="M-7.0,1.70 C-7.0,-2.90 7.0,-2.90 7.0,1.70 Z" fill="#1b72d4"/><rect x="-1.5" y="8.6" width="3" height="2.8" fill="#333"/></g>
<path d="M355.54999999999995,261.7 L357.04999999999995,257.7 L360.04999999999995,257.7 L361.54999999999995,261.7 Z" fill="#c8c8cc" stroke="#666" stroke-width="0.5"/>
<g transform="translate(351.0,264.2) rotate(0.0)"><ellipse cx="0" cy="5.4" rx="6.7" ry="3.5" fill="#f4f4f8" stroke="#1c2a5c" stroke-width="1.3"/><ellipse cx="0" cy="5.6" rx="2.2" ry="1.3" fill="#9aa0b4"/><path d="M-7.0,1.70 C-7.0,-2.90 7.0,-2.90 7.0,1.70 Z" fill="#1b72d4"/><rect x="-1.5" y="8.6" width="3" height="2.8" fill="#333"/></g>
<path d="M370.4,262.0 L371.9,258.0 L374.9,258.0 L376.4,262.0 Z" fill="#c8c8cc" stroke="#666" stroke-width="0.5"/>
<g transform="translate(365.9,264.5) rotate(0.0)"><ellipse cx="0" cy="5.4" rx="6.7" ry="3.5" fill="#f4f4f8" stroke="#1c2a5c" stroke-width="1.3"/><ellipse cx="0" cy="5.6" rx="2.2" ry="1.3" fill="#9aa0b4"/><path d="M-7.0,1.70 C-7.0,-2.90 7.0,-2.90 7.0,1.70 Z" fill="#1b72d4"/><rect x="-1.5" y="8.6" width="3" height="2.8" fill="#333"/></g>
<path d="M385.25,262.2 L386.75,258.2 L389.75,258.2 L391.25,262.2 Z" fill="#c8c8cc" stroke="#666" stroke-width="0.5"/>
<g transform="translate(380.8,264.7) rotate(0.0)"><ellipse cx="0" cy="5.4" rx="6.7" ry="3.5" fill="#f4f4f8" stroke="#1c2a5c" stroke-width="1.3"/><ellipse cx="0" cy="5.6" rx="2.2" ry="1.3" fill="#9aa0b4"/><path d="M-7.0,1.70 C-7.0,-2.90 7.0,-2.90 7.0,1.70 Z" fill="#1b72d4"/><rect x="-1.5" y="8.6" width="3" height="2.8" fill="#333"/></g>
<path d="M400.1,262.5 L401.6,258.5 L404.6,258.5 L406.1,262.5 Z" fill="#c8c8cc" stroke="#666" stroke-width="0.5"/>
<g transform="translate(395.6,265.0) rotate(0.0)"><ellipse cx="0" cy="5.4" rx="6.7" ry="3.5" fill="#f4f4f8" stroke="#1c2a5c" stroke-width="1.3"/><ellipse cx="0" cy="5.6" rx="2.2" ry="1.3" fill="#9aa0b4"/><path d="M-7.0,1.70 C-7.0,-2.90 7.0,-2.90 7.0,1.70 Z" fill="#1b72d4"/><rect x="-1.5" y="8.6" width="3" height="2.8" fill="#333"/></g>
<path d="M214.5,139.5 Q220.5,136.5 226.0,138.0 L227.5,145.5 L229.0,138.0 Q234.5,136.5 240.5,139.5 L235.5,142.0 L229.0,145.5 L226.0,145.5 L219.5,142.0 Z" fill="#e8b820" stroke="#4a3a10" stroke-width="0.7"/><circle cx="215.5" cy="140.0" r="1.6" fill="#fff" stroke="#222" stroke-width="0.8"/><circle cx="239.5" cy="140.0" r="1.6" fill="#fff" stroke="#222" stroke-width="0.8"/><ellipse cx="227.5" cy="136.0" rx="2" ry="2.4" fill="#fff" stroke="#333" stroke-width="0.8"/><line x1="227.5" y1="138.5" x2="227.5" y2="145.5" stroke="#555" stroke-width="1"/>
<path d="M330.5,140 Q336.5,137 342.0,138.5 L343.5,146 L345.0,138.5 Q350.5,137 356.5,140 L351.5,142.5 L345.0,146 L342.0,146 L335.5,142.5 Z" fill="#e8b820" stroke="#4a3a10" stroke-width="0.7"/><circle cx="331.5" cy="140.5" r="1.6" fill="#fff" stroke="#222" stroke-width="0.8"/><circle cx="355.5" cy="140.5" r="1.6" fill="#fff" stroke="#222" stroke-width="0.8"/><ellipse cx="343.5" cy="136.5" rx="2" ry="2.4" fill="#fff" stroke="#333" stroke-width="0.8"/><line x1="343.5" y1="139" x2="343.5" y2="146" stroke="#555" stroke-width="1"/>
<path d="M448.7,144 Q454.7,141 460.2,142.5 L461.7,150 L463.2,142.5 Q468.7,141 474.7,144 L469.7,146.5 L463.2,150 L460.2,150 L453.7,146.5 Z" fill="#e8b820" stroke="#4a3a10" stroke-width="0.7"/><circle cx="449.7" cy="144.5" r="1.6" fill="#fff" stroke="#222" stroke-width="0.8"/><circle cx="473.7" cy="144.5" r="1.6" fill="#fff" stroke="#222" stroke-width="0.8"/><ellipse cx="461.7" cy="140.5" rx="2" ry="2.4" fill="#fff" stroke="#333" stroke-width="0.8"/><line x1="461.7" y1="143" x2="461.7" y2="150" stroke="#555" stroke-width="1"/>
<rect x="446" y="153.5" width="32" height="5.5" rx="1.5" fill="#fff" stroke="#555" stroke-width="0.6"/><rect x="453" y="159" width="19" height="2.2" fill="#e0b020" stroke="#6a5010" stroke-width="0.4"/>
<rect x="452" y="161" width="5" height="4.5" fill="#444"/><rect x="469" y="161" width="5" height="4.5" fill="#444"/>
<rect x="520.5" y="147" width="9" height="8" rx="1.5" fill="#fff" stroke="#555" stroke-width="0.6"/><rect x="521" y="155" width="8" height="10" fill="#555" stroke="#333" stroke-width="0.5"/><rect x="523" y="157" width="4" height="5" fill="#ccc"/>
<rect x="519" y="165.5" width="11" height="6" fill="#e8e8e8" stroke="#444" stroke-width="0.6"/>
<path d="M220,270.5 L236,270.5 L230.5,276.5 L225.5,276.5 Z" fill="#e8b820" stroke="#6a5010" stroke-width="0.5"/>
<path d="M226.5,278 L229.5,278 L239,281 L240,285 L231,287 L229,290 L227,290 L225,287 L216,285 L217,281 Z" fill="#e0b020" stroke="#5a4510" stroke-width="0.6"/>
<circle cx="217" cy="287" r="2.2" fill="#fff" stroke="#222" stroke-width="1"/><circle cx="239" cy="287" r="2.2" fill="#fff" stroke="#222" stroke-width="1"/><circle cx="228" cy="288" r="2" fill="#fff" stroke="#333" stroke-width="0.8"/>
<path d="M225.5,290 L228,316 L230.5,290" fill="#d8d8d8" stroke="#444" stroke-width="0.8"/>
<path d="M335.5,271.3 L351.5,271.3 L346.0,277.3 L341.0,277.3 Z" fill="#e8b820" stroke="#6a5010" stroke-width="0.5"/>
<path d="M342.0,278.8 L345.0,278.8 L354.5,281.8 L355.5,285.8 L346.5,287.8 L344.5,290.8 L342.5,290.8 L340.5,287.8 L331.5,285.8 L332.5,281.8 Z" fill="#e0b020" stroke="#5a4510" stroke-width="0.6"/>
<circle cx="332.5" cy="287.8" r="2.2" fill="#fff" stroke="#222" stroke-width="1"/><circle cx="354.5" cy="287.8" r="2.2" fill="#fff" stroke="#222" stroke-width="1"/><circle cx="343.5" cy="288.8" r="2" fill="#fff" stroke="#333" stroke-width="0.8"/>
<path d="M341.0,290.8 L343.5,316.8 L346.0,290.8" fill="#d8d8d8" stroke="#444" stroke-width="0.8"/>
<path d="M454,272.0 L470,272.0 L464.5,278.0 L459.5,278.0 Z" fill="#e8b820" stroke="#6a5010" stroke-width="0.5"/>
<path d="M460.5,279.5 L463.5,279.5 L473,282.5 L474,286.5 L465,288.5 L463,291.5 L461,291.5 L459,288.5 L450,286.5 L451,282.5 Z" fill="#e0b020" stroke="#5a4510" stroke-width="0.6"/>
<circle cx="451" cy="288.5" r="2.2" fill="#fff" stroke="#222" stroke-width="1"/><circle cx="473" cy="288.5" r="2.2" fill="#fff" stroke="#222" stroke-width="1"/><circle cx="462" cy="289.5" r="2" fill="#fff" stroke="#333" stroke-width="0.8"/>
<path d="M459.5,291.5 L462,317.5 L464.5,291.5" fill="#d8d8d8" stroke="#444" stroke-width="0.8"/>
<rect x="446" y="267" width="32" height="5" fill="#fff" stroke="#555" stroke-width="0.6"/>
<path d="M56,199 L64,199 L66,204 L71,204.5 L78,199.5 L78.5,213 L71,208.5 L66,209 L64,213 L56,213 Z" fill="#e2b020" stroke="#5a4510" stroke-width="0.7"/>
<rect x="58" y="203" width="5" height="5" fill="#333"/>
<rect x="93" y="203" width="21" height="5" fill="#222"/><path d="M97,203.5 v4 M101,203.5 v4 M105,203.5 v4 M108,203.5 v4 M111,203.5 v4" stroke="#ddd" stroke-width="1"/>
<path d="M163.4,121.6 L199.7,121.6 L199.7,115.5 L212,127.45 L199.7,139.4 L199.7,133.6 L163.4,133.6 Z" fill="#ff0000" stroke="#3a6aa8" stroke-width="0.5"/>
<path d="M378,128.7 L414,128.7 L414,123 L426,134.3 L414,145.6 L414,140.9 L378,140.9 Z" fill="#ff0000" stroke="#3a6aa8" stroke-width="0.5"/>
<path d="M300,308 L263.5,308 L263.5,302.5 L251.5,314.0 L263.5,325.5 L263.5,319.5 L300,319.5 Z" fill="#ff0000" stroke="#3a6aa8" stroke-width="0.5"/>
<path d="M426,310.5 L390,310.5 L390,304.5 L378,316.25 L390,328 L390,322 L426,322 Z" fill="#ff0000" stroke="#3a6aa8" stroke-width="0.5"/>
<path d="M17.6,265.7 L17.6,229.9 L11.7,229.9 L24.1,217.5 L36.3,229.9 L30.4,229.9 L30.4,265.7 Z" fill="#ff0000" stroke="#3a6aa8" stroke-width="0.5"/>
<polyline points="67.5,153.5 83,153.5 110.5,205" stroke="#2e3e5e" stroke-width="0.8" fill="none"/>
<polyline points="49.5,359.3 46,359.3 97.7,249" stroke="#2e3e5e" stroke-width="0.8" fill="none"/>
<polyline points="108.2,359.3 104.7,359.3 192,236" stroke="#2e3e5e" stroke-width="0.8" fill="none"/>
<polyline points="166.5,359.5 162.7,359.5 250,228" stroke="#2e3e5e" stroke-width="0.8" fill="none"/>
<polyline points="225,359.5 221.2,359.5 303,233" stroke="#2e3e5e" stroke-width="0.8" fill="none"/>
<polyline points="331.8,359 328.3,359 366,255" stroke="#2e3e5e" stroke-width="0.8" fill="none"/>
<polyline points="390.2,359 386.7,359 419.5,221" stroke="#2e3e5e" stroke-width="0.8" fill="none"/>
<line x1="37.9" y1="351.2" x2="37.9" y2="342" stroke="#1a1ab0" stroke-width="1.4"/><path d="M36.4,344 L37.9,340.4 L39.4,344 Z" fill="#1a1ab0"/><line x1="37.9" y1="351.2" x2="47" y2="351.2" stroke="#cc1010" stroke-width="1.3"/><path d="M46,349.8 L49,351.2 L46,352.6 Z" fill="#cc1010"/><line x1="37.9" y1="351.2" x2="37.2" y2="354.5" stroke="#108010" stroke-width="1.2"/><circle cx="37.2" cy="354.5" r="1.4" fill="#108010"/><path d="M36.6,338.2 h2 l-2,2.4 h2" stroke="#8888cc" stroke-width="0.5" fill="none"/>
<rect x="12" y="147.5" width="55.5" height="30.0" fill="#71a0e6" stroke="#3e68ae" stroke-width="1.1"/><text x="39.75" y="160.0" text-anchor="middle" font-family="Liberation Sans, sans-serif" font-size="11.5" fill="#fff">摩擦轮伺</text><text x="39.75" y="173.8" text-anchor="middle" font-family="Liberation Sans, sans-serif" font-size="11.5" fill="#fff">服马达</text>
<rect x="53.3" y="353.3" width="45.10000000000001" height="30.399999999999977" fill="#71a0e6" stroke="#3e68ae" stroke-width="1.1"/><text x="75.85" y="372.9" text-anchor="middle" font-family="Liberation Sans, sans-serif" font-size="11.5" fill="#fff">摩擦轮</text>
<rect x="112.1" y="353.3" width="45.099999999999994" height="30.399999999999977" fill="#71a0e6" stroke="#3e68ae" stroke-width="1.1"/><text x="134.64999999999998" y="366.0" text-anchor="middle" font-family="Liberation Sans, sans-serif" font-size="11.5" fill="#fff">驱动主</text><text x="134.64999999999998" y="379.8" text-anchor="middle" font-family="Liberation Sans, sans-serif" font-size="11.5" fill="#fff">轮</text>
<rect x="170" y="353.8" width="45.30000000000001" height="30.30000000000001" fill="#71a0e6" stroke="#3e68ae" stroke-width="1.1"/><text x="192.65" y="373.3" text-anchor="middle" font-family="Liberation Sans, sans-serif" font-size="11.5" fill="#fff">减速机</text>
<rect x="229.3" y="353.8" width="45.0" height="30.30000000000001" fill="#71a0e6" stroke="#3e68ae" stroke-width="1.1"/><text x="251.8" y="373.3" text-anchor="middle" font-family="Liberation Sans, sans-serif" font-size="11.5" fill="#fff">马达</text>
<rect x="336" y="354" width="45.30000000000001" height="30.100000000000023" fill="#71a0e6" stroke="#3e68ae" stroke-width="1.1"/><text x="358.65" y="366.5" text-anchor="middle" font-family="Liberation Sans, sans-serif" font-size="11.5" fill="#fff">驱动副</text><text x="358.65" y="380.3" text-anchor="middle" font-family="Liberation Sans, sans-serif" font-size="11.5" fill="#fff">轮</text>
<rect x="393.3" y="354" width="45.89999999999998" height="30.100000000000023" fill="#71a0e6" stroke="#3e68ae" stroke-width="1.1"/><text x="416.25" y="366.5" text-anchor="middle" font-family="Liberation Sans, sans-serif" font-size="11.5" fill="#fff">摩擦轮</text><text x="416.25" y="380.3" text-anchor="middle" font-family="Liberation Sans, sans-serif" font-size="11.5" fill="#fff">马达</text></svg>
</body></html>
